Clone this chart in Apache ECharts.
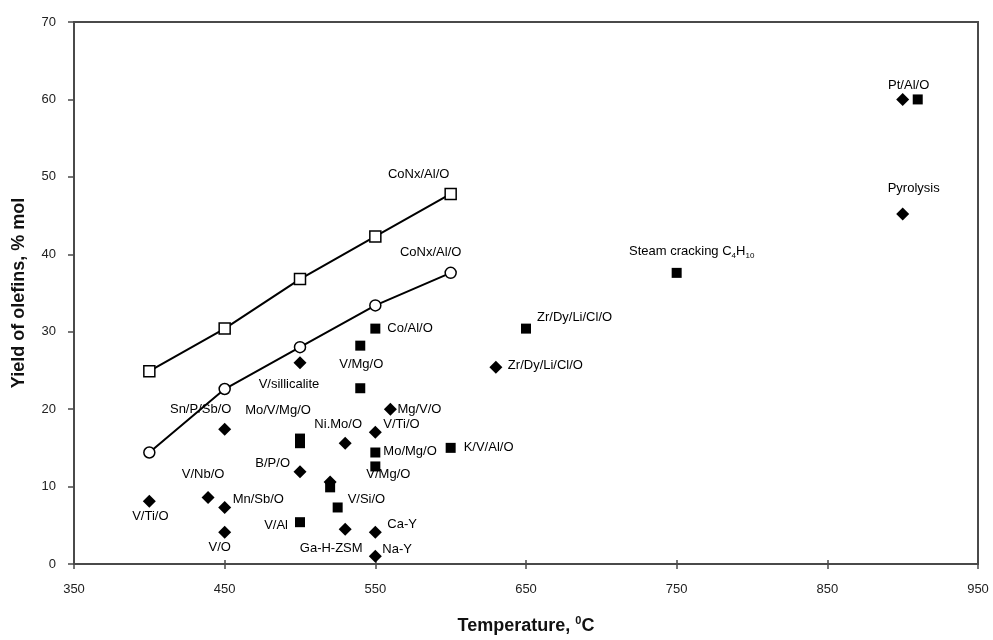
<!DOCTYPE html>
<html>
<head>
<meta charset="utf-8">
<script src="https://cdn.jsdelivr.net/npm/echarts@6/dist/echarts.min.js"></script>
<style>html,body{margin:0;padding:0;background:#fff}#c{width:993px;height:640px}</style>
</head>
<body>
<div id="c"></div>
<script>
// ---- Data ----
var xTicks = [350, 450, 550, 650, 750, 850, 950];
var yTicks = [0, 10, 20, 30, 40, 50, 60, 70];

var lineTemps = [400, 450, 500, 550, 600];
var openSquareYield = [24.9, 30.4, 36.8, 42.3, 47.8];
var openCircleYield = [14.4, 22.6, 28.0, 33.4, 37.6];
var lineLabel = 'CoNx/Al/O';

var squareTemps  = [550, 540, 540, 500, 500, 550, 550, 520, 525, 500, 600, 650, 750, 910];
var squareYield  = [30.4, 28.2, 22.7, 16.2, 15.6, 14.4, 12.6, 9.9, 7.3, 5.4, 15.0, 30.4, 37.6, 60.0];
var squareLabels = ['Co/Al/O', 'V/Mg/O', '', 'Mo/V/Mg/O', '', 'Mo/Mg/O', 'V/Mg/O', '', 'V/Si/O', 'V/Al', 'K/V/Al/O', 'Zr/Dy/Li/Cl/O', '{a|Steam cracking C}{s|4}{a|H}{s|10}', ''];

var diamondTemps  = [400, 439, 450, 450, 450, 500, 500, 520, 530, 560, 550, 530, 550, 550, 630, 900, 900];
var diamondYield  = [8.1, 8.6, 7.3, 4.1, 17.4, 26.0, 11.9, 10.6, 15.6, 20.0, 17.0, 4.5, 4.1, 1.0, 25.4, 60.0, 45.2];
var diamondLabels = ['V/Ti/O', 'V/Nb/O', 'Mn/Sb/O', 'V/O', 'Sn/P/Sb/O', 'V/sillicalite', 'B/P/O', '', 'Ni.Mo/O', 'Mg/V/O', 'V/Ti/O', 'Ga-H-ZSM', 'Ca-Y', 'Na-Y', 'Zr/Dy/Li/Cl/O', 'Pt/Al/O', 'Pyrolysis'];

// ---- Label layout (align, dx, dy from marker centre) ----
var squareLabelLayout = [
  ['left', 12, 0], ['center', 1, 19], null, ['center', -22, -28], null,
  ['left', 8, -1], ['center', 13, 8], null, ['left', 10, -8], ['right', -12, 3],
  ['left', 13, 0], ['left', 11, -11], ['center', 15, -21], null
];
var diamondLabelLayout = [
  ['center', 1, 15], ['center', -5, -23], ['left', 8, -8], ['center', -5, 15],
  ['center', -24, -20], ['center', -11, 22], ['right', -10, -8], null,
  ['center', -7, -19], ['left', 7, 0], ['left', 8, -8], ['center', -14, 19],
  ['left', 12, -8], ['left', 7, -7], ['left', 12, -2], ['center', 6, -14], ['center', 11, -26]
];

var FONT = 'Liberation Sans, Arial, sans-serif';
var TXT = '#000';

function pts(xs, ys, labels, layout) {
  return xs.map(function (x, i) {
    var item = { value: [x, ys[i]] };
    var lay = layout ? layout[i] : null;
    if (labels && labels[i] && lay) {
      item.label = {
        show: true, position: 'inside', formatter: labels[i],
        align: lay[0], verticalAlign: 'middle', offset: [lay[1], lay[2]],
        fontFamily: FONT, fontSize: 13, color: TXT, opacity: 1,
        rich: {
          a: { fontFamily: FONT, fontSize: 13, color: TXT, lineHeight: 16 },
          s: { fontFamily: FONT, fontSize: 8, color: TXT, verticalAlign: 'bottom', lineHeight: 8 }
        }
      };
    }
    return item;
  });
}

function linePts(ys) {
  return lineTemps.map(function (x, i) { return [x, ys[i]]; });
}

var chart = echarts.init(document.getElementById('c'), null, { renderer: 'canvas' });
var axisColor = '#4a4a4a';

var openSqData = linePts(openSquareYield);
openSqData[openSqData.length - 1] = {
  value: openSqData[openSqData.length - 1],
  label: { show: true, position: 'inside', formatter: lineLabel, offset: [-32, -19], align: 'center', fontFamily: FONT, fontSize: 13, color: TXT }
};
var openCiData = linePts(openCircleYield);
openCiData[openCiData.length - 1] = {
  value: openCiData[openCiData.length - 1],
  label: { show: true, position: 'inside', formatter: lineLabel, offset: [-20, -20], align: 'center', fontFamily: FONT, fontSize: 13, color: TXT }
};

chart.setOption({
  animation: false,
  backgroundColor: '#fff',
  grid: { left: 74, right: 15, top: 22, bottom: 75, show: true, borderColor: axisColor, borderWidth: 2 },
  xAxis: [{
    type: 'value', min: 350, max: 950, interval: 100, position: 'bottom',
    name: '{a|Temperature, }{p|0}{a|C}', nameLocation: 'middle', nameGap: 51,
    nameTextStyle: {
      rich: {
        a: { fontFamily: FONT, fontSize: 18, fontWeight: 'bold', color: '#111', lineHeight: 22 },
        p: { fontFamily: FONT, fontSize: 11, fontWeight: 'bold', color: '#111', verticalAlign: 'top', lineHeight: 11 }
      }
    },
    axisLine: { show: true, lineStyle: { color: axisColor, width: 2 } },
    axisTick: { show: true, inside: false, length: 5, lineStyle: { color: axisColor, width: 1.5 } },
    axisLabel: { margin: 19, fontFamily: FONT, fontSize: 13, color: '#222',
      formatter: function (v) { return xTicks.indexOf(v) >= 0 ? String(v) : ''; } },
    splitLine: { show: false }
  }, {
    type: 'value', min: 350, max: 950, interval: 100, position: 'bottom',
    axisLine: { show: false },
    axisTick: { show: true, inside: true, length: 4, lineStyle: { color: axisColor, width: 1.5 } },
    axisLabel: { show: false }, splitLine: { show: false }
  }],
  yAxis: [{
    type: 'value', min: 0, max: 70, interval: 10, position: 'left',
    name: 'Yield of olefins, % mol', nameLocation: 'middle', nameGap: 46,
    nameTextStyle: { fontFamily: FONT, fontSize: 18, fontWeight: 'bold', color: '#111' },
    axisLine: { show: true, lineStyle: { color: axisColor, width: 2 } },
    axisTick: { show: true, inside: false, length: 6, lineStyle: { color: axisColor, width: 1.5 } },
    axisLabel: { margin: 18, fontFamily: FONT, fontSize: 13, color: '#222',
      formatter: function (v) { return yTicks.indexOf(v) >= 0 ? String(v) : ''; } },
    splitLine: { show: false }
  }],
  series: [{
    type: 'line', xAxisIndex: 0, data: openSqData,
    symbol: 'rect', symbolSize: 11, showAllSymbol: true,
    lineStyle: { color: '#000', width: 2 },
    itemStyle: { color: '#fff', borderColor: '#000', borderWidth: 1.5, opacity: 1 },
    z: 3
  }, {
    type: 'line', xAxisIndex: 0, data: openCiData,
    symbol: 'circle', symbolSize: 11, showAllSymbol: true,
    lineStyle: { color: '#000', width: 2 },
    itemStyle: { color: '#fff', borderColor: '#000', borderWidth: 1.5, opacity: 1 },
    z: 3
  }, {
    type: 'scatter', xAxisIndex: 0,
    data: pts(squareTemps, squareYield, squareLabels, squareLabelLayout),
    symbol: 'rect', symbolSize: 10,
    itemStyle: { color: '#000', opacity: 1 }, z: 4
  }, {
    type: 'scatter', xAxisIndex: 0,
    data: pts(diamondTemps, diamondYield, diamondLabels, diamondLabelLayout),
    symbol: 'diamond', symbolSize: 13,
    itemStyle: { color: '#000', opacity: 1 }, z: 5
  }]
});
</script>
</body>
</html>
